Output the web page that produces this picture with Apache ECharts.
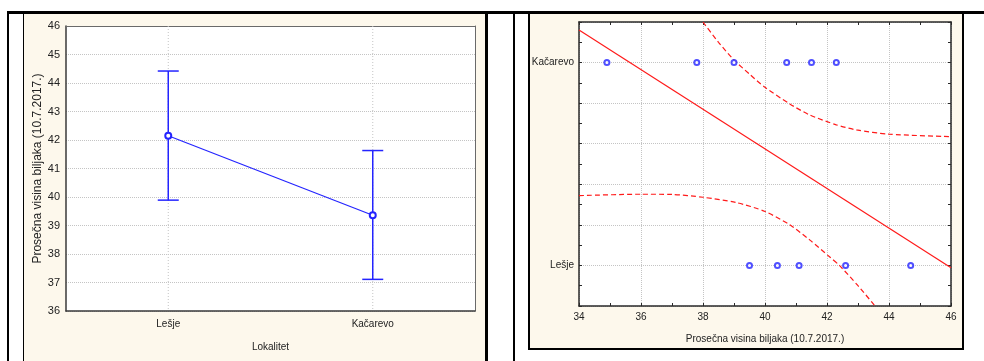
<!DOCTYPE html>
<html>
<head>
<meta charset="utf-8">
<script src="https://cdn.jsdelivr.net/npm/echarts@6/dist/echarts.min.js"></script>
<style>
html,body{margin:0;padding:0;background:#fff;}
#c{width:984px;height:361px;}
</style>
</head>
<body>
<div id="c"></div>
<script>
// ---- Left chart data (means with error bars) ----
const categories = ['Lešje', 'Kačarevo'];
const means = [42.15, 39.36];
const lowerBar = [39.89, 37.11];
const upperBar = [44.42, 41.63];
const leftYTicks = [36, 37, 38, 39, 40, 41, 42, 43, 44, 45, 46];

// ---- Right chart data (individual heights vs. location code) ----
const lesjeHeights = [39.5, 40.4, 41.1, 42.6, 44.7];
const kacarevoHeights = [34.9, 37.8, 39.0, 40.7, 41.5, 42.3];
const groupCodes = [0, 1];
const groupLabels = ['Lešje', 'Kačarevo'];
const rightXTicks = [34, 36, 38, 40, 42, 44, 46];
const fitLine = [[34, 1.161], [46, -0.011]];
const upperBand = [[38.0, 1.2], [38.5, 1.1], [39.0, 1.013], [39.5, 0.943], [40.0, 0.878], [40.8, 0.796], [41.44, 0.742], [42.3, 0.693], [42.95, 0.668], [44.0, 0.647], [46.0, 0.635]];
const lowerBand = [[34.0, 0.344], [36.0, 0.351], [37.0, 0.350], [38.0, 0.336], [39.07, 0.310], [40.0, 0.266], [40.8, 0.200], [41.44, 0.126], [42.1, 0.040], [42.4, 0.0], [43.0, -0.1], [43.55, -0.2]];

const axisTitle = 'Prosečna visina biljaka (10.7.2017.)';
const BLUE = '#2424ff';
const RED = '#ff1a1a';
const CREAM = '#fdf8ec';
const FONT = 'Liberation Sans, Arial, sans-serif';
const TXT = '#222';
const GRID = '#c4c4c4';

const chart = echarts.init(document.getElementById('c'), null, {renderer: 'canvas'});

const option = {
  backgroundColor: '#ffffff',
  animation: false,
  textStyle: {fontFamily: FONT},
  graphic: [
    // left panel
    {type: 'rect', z: -10, shape: {x: 23, y: 14, width: 465, height: 360}, style: {fill: CREAM}},
    {type: 'rect', z: -9, shape: {x: 23, y: 14, width: 1, height: 360}, style: {fill: '#000'}},
    {type: 'rect', z: -9, shape: {x: 485, y: 14, width: 3, height: 360}, style: {fill: '#000'}},
    // right panel
    {type: 'rect', z: -10, shape: {x: 528, y: 14, width: 436, height: 336}, style: {fill: CREAM}},
    {type: 'rect', z: -9, shape: {x: 528, y: 14, width: 2, height: 336}, style: {fill: '#000'}},
    {type: 'rect', z: -9, shape: {x: 962, y: 14, width: 2, height: 336}, style: {fill: '#000'}},
    {type: 'rect', z: -9, shape: {x: 528, y: 348, width: 436, height: 2}, style: {fill: '#000'}},
    // table lines
    {type: 'rect', z: -9, shape: {x: 7, y: 11, width: 977, height: 3}, style: {fill: '#000'}},
    {type: 'rect', z: -9, shape: {x: 7, y: 11, width: 2, height: 360}, style: {fill: '#000'}},
    {type: 'rect', z: -9, shape: {x: 513, y: 11, width: 2, height: 360}, style: {fill: '#000'}}
  ],
  grid: [
    {left: 66, top: 26, width: 409, height: 285, show: true, backgroundColor: '#fff', borderWidth: 0},
    {left: 579, top: 22, width: 372, height: 284, show: true, backgroundColor: '#fff', borderWidth: 0}
  ],
  xAxis: [
    {
      gridIndex: 0, type: 'category', data: categories, boundaryGap: true,
      name: 'Lokalitet', nameLocation: 'middle', nameGap: 31,
      nameTextStyle: {fontSize: 10, color: TXT, fontFamily: FONT},
      axisLine: {show: true, lineStyle: {color: '#3a3a3a', width: 1.5}},
      axisTick: {show: false},
      axisLabel: {fontSize: 10, color: TXT, margin: 8, fontFamily: FONT},
      splitLine: {show: false}
    },
    {
      gridIndex: 0, type: 'category', data: categories, position: 'top',
      axisLine: {show: true, lineStyle: {color: '#6a6a6a', width: 1}},
      axisTick: {show: false}, axisLabel: {show: false}, splitLine: {show: false}
    },
    {
      gridIndex: 1, type: 'value', min: 34, max: 46, interval: 2,
      name: axisTitle, nameLocation: 'middle', nameGap: 28,
      nameTextStyle: {fontSize: 10, color: TXT, fontFamily: FONT},
      axisLine: {show: true, onZero: false, lineStyle: {color: '#2a2a2a', width: 1.5}},
      axisTick: {show: true, inside: true, length: 3, lineStyle: {color: '#2a2a2a'}},
      minorTick: {show: true, splitNumber: 2, length: 3, lineStyle: {color: '#2a2a2a'}},
      axisLabel: {fontSize: 10, color: TXT, margin: 6, fontFamily: FONT,
        formatter: v => rightXTicks.includes(v) ? String(v) : ''},
      splitLine: {show: true, lineStyle: {color: GRID, type: 'dotted', width: 1}}
    },
    {
      gridIndex: 1, type: 'value', min: 34, max: 46, interval: 2, position: 'top',
      axisLine: {show: true, onZero: false, lineStyle: {color: '#2a2a2a', width: 1.5}},
      axisTick: {show: true, inside: true, length: 3, lineStyle: {color: '#2a2a2a'}},
      minorTick: {show: true, splitNumber: 2, length: 3, lineStyle: {color: '#2a2a2a'}},
      axisLabel: {show: false}, splitLine: {show: false}
    }
  ],
  yAxis: [
    {
      gridIndex: 0, type: 'value', min: 36, max: 46, interval: 1,
      name: axisTitle, nameLocation: 'middle', nameGap: 22,
      nameTextStyle: {fontSize: 12, color: TXT, fontFamily: FONT},
      axisLine: {show: true, lineStyle: {color: '#3a3a3a', width: 1.5}},
      axisTick: {show: false},
      axisLabel: {fontSize: 11, color: TXT, margin: 6, fontFamily: FONT,
        formatter: v => leftYTicks.includes(v) ? String(v) : ''},
      splitLine: {show: true, lineStyle: {color: GRID, type: 'dotted', width: 1}}
    },
    {
      gridIndex: 0, type: 'value', min: 36, max: 46, interval: 1, position: 'right',
      axisLine: {show: true, lineStyle: {color: '#6a6a6a', width: 1}},
      axisTick: {show: false}, axisLabel: {show: false}, splitLine: {show: false}
    },
    {
      gridIndex: 1, type: 'value', min: -0.2, max: 1.2, interval: 0.2,
      axisLine: {show: true, onZero: false, lineStyle: {color: '#2a2a2a', width: 1.5}},
      axisTick: {show: true, inside: true, length: 3, lineStyle: {color: '#2a2a2a'}},
      minorTick: {show: true, splitNumber: 2, length: 3, lineStyle: {color: '#2a2a2a'}},
      axisLabel: {fontSize: 10, color: TXT, margin: 5, fontFamily: FONT,
        formatter: v => {
          for (let i = 0; i < groupCodes.length; i++) {
            if (Math.abs(v - groupCodes[i]) < 1e-6) return groupLabels[i];
          }
          return '';
        }},
      splitLine: {show: true, lineStyle: {color: GRID, type: 'dotted', width: 1}}
    },
    {
      gridIndex: 1, type: 'value', min: -0.2, max: 1.2, interval: 0.2, position: 'right',
      axisLine: {show: true, onZero: false, lineStyle: {color: '#2a2a2a', width: 1.5}},
      axisTick: {show: true, inside: true, length: 3, lineStyle: {color: '#2a2a2a'}},
      minorTick: {show: true, splitNumber: 2, length: 3, lineStyle: {color: '#2a2a2a'}},
      axisLabel: {show: false}, splitLine: {show: false}
    }
  ],
  series: [
    // error bars (with dotted vertical guide at each category)
    {
      type: 'custom', xAxisIndex: 0, yAxisIndex: 0, z: 3,
      data: categories.map((c, i) => [i, lowerBar[i], upperBar[i]]),
      renderItem: function (params, api) {
        const i = api.value(0);
        const lo = api.coord([i, api.value(1)]);
        const hi = api.coord([i, api.value(2)]);
        const cs = params.coordSys;
        const hw = 10.5;
        const st = {stroke: BLUE, lineWidth: 1.5};
        return {
          type: 'group',
          children: [
            {type: 'line', shape: {x1: lo[0], y1: cs.y, x2: lo[0], y2: cs.y + cs.height},
              style: {stroke: GRID, lineWidth: 1, lineDash: [1, 2]}},
            {type: 'line', shape: {x1: lo[0], y1: lo[1], x2: hi[0], y2: hi[1]}, style: st},
            {type: 'line', shape: {x1: lo[0] - hw, y1: lo[1], x2: lo[0] + hw, y2: lo[1]}, style: st},
            {type: 'line', shape: {x1: hi[0] - hw, y1: hi[1], x2: hi[0] + hw, y2: hi[1]}, style: st}
          ]
        };
      }
    },
    // means
    {
      type: 'line', xAxisIndex: 0, yAxisIndex: 0, z: 4,
      data: means,
      symbol: 'emptyCircle', symbolSize: 6,
      lineStyle: {color: BLUE, width: 1.2},
      itemStyle: {color: BLUE, borderWidth: 1}
    },
    // right chart: fitted line and confidence band
    {
      type: 'line', xAxisIndex: 2, yAxisIndex: 2, z: 3,
      data: fitLine, symbol: 'none',
      lineStyle: {color: RED, width: 1.2}
    },
    {
      type: 'line', xAxisIndex: 2, yAxisIndex: 2, z: 3,
      data: upperBand, symbol: 'none', smooth: 0.25,
      lineStyle: {color: RED, width: 1.2, type: [5, 3]}
    },
    {
      type: 'line', xAxisIndex: 2, yAxisIndex: 2, z: 3,
      data: lowerBand, symbol: 'none', smooth: 0.25,
      lineStyle: {color: RED, width: 1.2, type: [5, 3]}
    },
    {
      type: 'scatter', xAxisIndex: 2, yAxisIndex: 2, z: 4,
      data: kacarevoHeights.map(v => [v, groupCodes[1]]),
      symbol: 'emptyCircle', symbolSize: 5,
      itemStyle: {color: BLUE, borderColor: BLUE, borderWidth: 1.2}
    },
    {
      type: 'scatter', xAxisIndex: 2, yAxisIndex: 2, z: 4,
      data: lesjeHeights.map(v => [v, groupCodes[0]]),
      symbol: 'emptyCircle', symbolSize: 5,
      itemStyle: {color: BLUE, borderColor: BLUE, borderWidth: 1.2}
    }
  ]
};
chart.setOption(option);
</script>
</body>
</html>
